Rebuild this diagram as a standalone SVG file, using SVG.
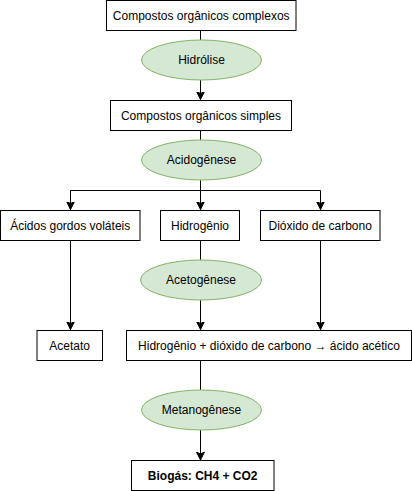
<svg xmlns="http://www.w3.org/2000/svg" width="412" height="491" viewBox="0 0 412 491">
<defs>
<marker id="arr" markerUnits="userSpaceOnUse" markerWidth="10" markerHeight="10" refX="8" refY="4" orient="auto">
<path d="M0,0 L8,4 L0,8 L2,4 z" fill="#000" stroke="#000" stroke-width="1"/>
</marker>
<style>
.box{fill:#fff;stroke:#000;stroke-width:1}
.ell{fill:#d5e8d4;stroke:#82b366;stroke-width:1}
text{font-family:"Liberation Sans",Arial,sans-serif;font-size:12px;fill:#000;text-anchor:middle;dominant-baseline:central}
.b{font-weight:bold}
.c{fill:none;stroke:#000;stroke-width:1}
</style>
</defs>
<rect width="412" height="491" fill="#fff"/>
<g id="connectors">
<path class="c" d="M200.5,30.5 V40"/>
<path class="c" d="M200.5,80 V99.5" marker-end="url(#arr)"/>
<path class="c" d="M200.5,130.5 V140"/>
<path class="c" d="M200.5,180 V209.5" marker-end="url(#arr)"/>
<path class="c" d="M70.5,209.5 V190.5 H320.5 V209.5" marker-end="url(#arr)"/>
<path class="c" d="M70.5,190.5 V209.5" marker-end="url(#arr)"/>
<path class="c" d="M200.5,240.5 V260"/>
<path class="c" d="M200.5,300 V329.5" marker-end="url(#arr)"/>
<path class="c" d="M70.5,240.5 V329.5" marker-end="url(#arr)"/>
<path class="c" d="M320.5,240.5 V329.5" marker-end="url(#arr)"/>
<path class="c" d="M200.5,360.5 V390"/>
<path class="c" d="M200.5,430 V460" marker-end="url(#arr)"/>
</g>
<g id="n1"><rect class="box" x="106.5" y="0.5" width="189.5" height="30"/><text x="201.2" y="15.5">Compostos orgânicos complexos</text></g>
<g id="e1"><ellipse class="ell" cx="201.5" cy="60" rx="60" ry="20"/><text x="201.5" y="60">Hidrólise</text></g>
<g id="n2"><rect class="box" x="110.5" y="100.5" width="181" height="30"/><text x="201" y="115.5">Compostos orgânicos simples</text></g>
<g id="e2"><ellipse class="ell" cx="201.5" cy="160" rx="60" ry="20"/><text x="201.5" y="160">Acidogênese</text></g>
<g id="n3"><rect class="box" x="0.5" y="210.5" width="139.5" height="30"/><text x="70.2" y="225.5">Ácidos gordos voláteis</text></g>
<g id="n4"><rect class="box" x="160.5" y="210.5" width="79" height="30"/><text x="200" y="225.5">Hidrogênio</text></g>
<g id="n5"><rect class="box" x="260.5" y="210.5" width="119.5" height="30"/><text x="320.2" y="225.5">Dióxido de carbono</text></g>
<g id="e3"><ellipse class="ell" cx="201" cy="280" rx="60.5" ry="20"/><text x="201" y="280">Acetogênese</text></g>
<g id="n6"><rect class="box" x="37" y="330.5" width="65.5" height="30"/><text x="69.7" y="345.5">Acetato</text></g>
<g id="n7"><rect class="box" x="126.5" y="330.5" width="285" height="30"/><text x="269" y="345.5">Hidrogênio + dióxido de carbono → ácido acético</text></g>
<g id="e4"><ellipse class="ell" cx="201.5" cy="410" rx="60" ry="20"/><text x="201.5" y="410">Metanogênese</text></g>
<g id="n8"><rect class="box" x="131.5" y="460.5" width="142.5" height="30"/><text class="b" x="202.7" y="475.5">Biogás: CH4 + CO2</text></g>
</svg>
